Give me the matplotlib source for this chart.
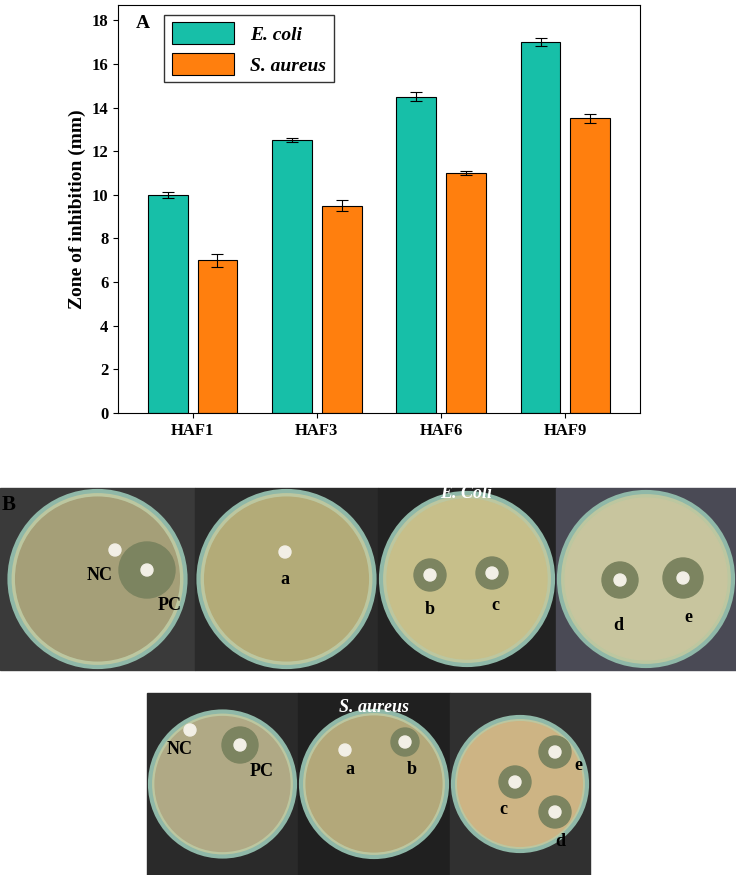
import matplotlib
matplotlib.use("Agg")
import matplotlib.pyplot as plt
from matplotlib.patches import Circle, Rectangle
import numpy as np

plt.rcParams['font.family'] = ['Liberation Serif', 'DejaVu Serif']
plt.rcParams['font.weight'] = 'bold'

categories = ["HAF1", "HAF3", "HAF6", "HAF9"]
ecoli = [10.0, 12.5, 14.5, 17.0]
ecoli_err = [0.15, 0.1, 0.2, 0.2]
saureus = [7.0, 9.5, 11.0, 13.5]
saureus_err = [0.3, 0.25, 0.08, 0.2]

W, H = 736, 875
fig = plt.figure(figsize=(W/100, H/100), dpi=100)
ax = fig.add_axes([118/W, 1-413/H, (640-118)/W, (413-5)/H])
x = np.arange(len(categories))
w = 0.32
ax.bar(x - 0.2, ecoli, w, yerr=ecoli_err, color='#17BFA8', edgecolor='black', lw=0.8,
       capsize=4, error_kw=dict(lw=0.8, capthick=0.8), label='E. coli')
ax.bar(x + 0.2, saureus, w, yerr=saureus_err, color='#FF7F0E', edgecolor='black', lw=0.8,
       capsize=4, error_kw=dict(lw=0.8, capthick=0.8), label='S. aureus')
ax.set_xticks(x)
ax.set_xticklabels(categories, fontsize=12, fontweight='bold')
ax.set_ylim(0, 18.7)
ax.set_yticks(range(0, 19, 2))
ax.tick_params(labelsize=12)
ax.set_xlim(-0.6, 3.6)
ax.set_ylabel('Zone of inhibition (mm)', fontsize=14, fontweight='bold')
ax.text(0.035, 0.975, 'A', transform=ax.transAxes, fontsize=14, fontweight='bold', va='top')
ax.legend(loc='upper left', bbox_to_anchor=(0.07, 1.0),
          prop={'style': 'italic', 'weight': 'bold', 'size': 14},
          handlelength=3.2, handleheight=1.3, frameon=True, fancybox=False, edgecolor='black')

# Panel B: schematic plates
bax = fig.add_axes([0, 0, 1, 1])
bax.set_xlim(0, W); bax.set_ylim(H, 0); bax.axis('off')
fig.text(2/W, 1-505/H, 'B', fontsize=15, fontweight='bold', va='center')

def plate(x0, x1, y0, y1, bg, dish, discs, labels):
    bax.add_patch(Rectangle((x0, y0), x1-x0, y1-y0, color=bg))
    cx, cy = (x0+x1)/2, (y0+y1)/2
    r = min(x1-x0, y1-y0)/2 - 3
    bax.add_patch(Circle((cx, cy), r, color='#bcc7a0', ec='#8fb8a8', lw=3))
    bax.add_patch(Circle((cx, cy), r*0.93, color=dish))
    for dx, dy, zone in discs:
        if zone:
            bax.add_patch(Circle((dx, dy), zone, color='#7c8460'))
        bax.add_patch(Circle((dx, dy), 6, color='#f2efe6'))
    for lx, ly, t in labels:
        bax.text(lx, ly, t, fontsize=13, fontweight='bold', ha='center', va='center')

plate(0, 195, 488, 670, '#3a3a3a', '#a59f78',
      [(115, 550, 0), (147, 570, 28)], [(100, 575, 'NC'), (170, 605, 'PC')])
plate(195, 378, 488, 670, '#2a2a2a', '#b3ab78',
      [(285, 552, 0)], [(285, 580, 'a')])
plate(378, 556, 488, 670, '#222222', '#c7bf8a',
      [(430, 575, 16), (492, 573, 16)], [(430, 610, 'b'), (495, 605, 'c')])
plate(556, 736, 488, 670, '#4a4a55', '#c8c59e',
      [(620, 580, 18), (683, 578, 20)], [(618, 625, 'd'), (688, 618, 'e')])
bax.text(466, 498, 'E. Coli', fontsize=13, fontstyle='italic', fontweight='bold', color='white', ha='center')

plate(147, 298, 693, 875, '#2a2a2a', '#b0a985',
      [(190, 730, 0), (240, 745, 18)], [(180, 750, 'NC'), (262, 772, 'PC')])
plate(298, 450, 693, 875, '#202020', '#b3a87a',
      [(345, 750, 0), (405, 742, 14)], [(350, 770, 'a'), (412, 770, 'b')])
plate(450, 590, 693, 875, '#303030', '#cdb484',
      [(515, 782, 16), (555, 752, 16), (555, 812, 16)],
      [(503, 810, 'c'), (578, 765, 'e'), (560, 842, 'd')])
bax.text(374, 712, 'S. aureus', fontsize=13, fontstyle='italic', fontweight='bold', color='white', ha='center')

fig.savefig('out.png', dpi=100)
